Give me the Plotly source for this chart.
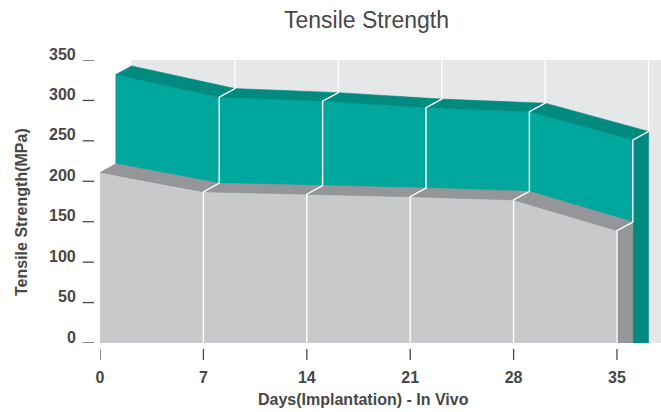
import plotly.graph_objects as go

# ---- data ----
days = [0, 7, 14, 21, 28, 35]
front_series = [211, 187, 184, 181, 177, 139]   # grey (front row)
back_series = [332, 304, 299, 291, 286, 251]    # teal (back row)
y_ticks = [0, 50, 100, 150, 200, 250, 300, 350]
x_tick_labels = ["0", "7", "14", "21", "28", "35"]

TITLE = "Tensile Strength"
Y_TITLE = "Tensile Strength(MPa)"
X_TITLE = "Days(Implantation) - In Vivo"

# ---- layout constants ----
W, H = 661, 412
ML, MR, MT, MB = 100, 0, 60, 69
PW, PH = W - ML - MR, H - MT - MB
Y_MAX = 350
PX_PER_DAY = 517 / 35
X_MAX = PW / PX_PER_DAY
PX_PER_UNIT = PH / Y_MAX
DX = 15.8 / PX_PER_DAY        # 3D depth offset, in axis units
DY = 8.6 / PX_PER_UNIT

TEAL_FRONT = "#00A79D"
TEAL_TOP = "#008A80"
TEAL_SIDE = "#008A80"
GREY_FRONT = "#C8C9CB"
GREY_TOP = "#95969A"
GREY_SIDE = "#95969A"
WALL = "#E6E7E9"
TXT = "#474747"
FONT = "Liberation Sans, Arial, sans-serif"

fig = go.Figure()


def poly(xs, ys, color):
    fig.add_trace(go.Scatter(
        x=xs + [xs[0]], y=ys + [ys[0]], mode="lines", fill="toself",
        fillcolor=color, line=dict(color=color, width=0.6),
        hoverinfo="skip", showlegend=False))


def series3d(xs, vals, depth, front_c, top_c, side_c):
    ox = depth * DX
    fx = [x + ox for x in xs]
    # front face
    poly([fx[0]] + fx + [fx[-1]], [0] + [v for v in vals] + [0], front_c)
    # top faces
    for i in range(len(xs) - 1):
        poly([fx[i], fx[i + 1], fx[i + 1] + DX, fx[i] + DX],
             [vals[i], vals[i + 1], vals[i + 1] + DY, vals[i] + DY], top_c)
    # right side
    poly([fx[-1], fx[-1], fx[-1] + DX, fx[-1] + DX],
         [0, vals[-1], vals[-1] + DY, 0], side_c)


# back wall
poly([2 * DX, X_MAX, X_MAX, 2 * DX], [0, 0, Y_MAX, Y_MAX], WALL)

series3d(days, back_series, 1, TEAL_FRONT, TEAL_TOP, TEAL_SIDE)
series3d(days, front_series, 0, GREY_FRONT, GREY_TOP, GREY_SIDE)

# white separator lines wrapping over the 3D surfaces
lx, ly = [], []
for i in range(1, len(days)):
    x, g, t = days[i], front_series[i], back_series[i]
    lx += [x, x, x + DX, x + DX, x + 2 * DX, x + 2 * DX, None]
    ly += [0, g, g + DY, t, t + DY, Y_MAX, None]
fig.add_trace(go.Scatter(x=lx, y=ly, mode="lines",
                         line=dict(color="white", width=1.4),
                         hoverinfo="skip", showlegend=False))

shapes = []
annotations = []
# y tick marks + labels
for v in y_ticks:
    shapes.append(dict(type="line", xref="paper", yref="y",
                       x0=-17.3 / PW, x1=-6 / PW, y0=v, y1=v,
                       line=dict(color=TXT, width=1.3)))
    annotations.append(dict(xref="paper", yref="y", x=-22 / PW, y=v,
                            xanchor="right", yanchor="middle", yshift=6,
                            text=str(v), showarrow=False,
                            font=dict(family=FONT, size=16, color=TXT, weight="bold")))
# x tick marks
for d in days:
    shapes.append(dict(type="line", xref="x", yref="paper",
                       x0=d, x1=d, y0=-6 / PH, y1=-17 / PH,
                       line=dict(color=TXT, width=1.3)))

annotations.append(dict(xref="paper", yref="paper", x=(21.5 - ML) / PW,
                        y=(H - MB - 212.5) / PH, textangle=-90,
                        xanchor="center", yanchor="middle", showarrow=False,
                        text=Y_TITLE,
                        font=dict(family=FONT, size=16, color=TXT, weight="bold")))
annotations.append(dict(xref="paper", yref="paper", x=(363.5 - ML) / PW,
                        y=(H - MB - 399) / PH, xanchor="center", yanchor="middle",
                        showarrow=False, text=X_TITLE,
                        font=dict(family=FONT, size=16, color=TXT, weight="bold")))

fig.update_layout(
    width=W, height=H,
    margin=dict(l=ML, r=MR, t=MT, b=MB),
    paper_bgcolor="white", plot_bgcolor="white",
    title=dict(text=TITLE, x=366.5 / W, xanchor="center",
               y=1 - 20 / H, yanchor="middle",
               font=dict(family=FONT, size=23, color=TXT)),
    xaxis=dict(range=[0, X_MAX], showgrid=False, zeroline=False, showline=False,
               tickmode="array", tickvals=days, ticktext=x_tick_labels,
               ticks="", ticklabelstandoff=23,
               tickfont=dict(family=FONT, size=16, color=TXT, weight="bold"),
               fixedrange=True),
    yaxis=dict(range=[0, Y_MAX], showgrid=False, zeroline=False, showline=False,
               showticklabels=False, ticks="", fixedrange=True),
    shapes=shapes,
    annotations=annotations,
)

fig.write_html("out.html", config={"displayModeBar": False},
               post_script="document.body.style.margin='0';document.body.style.overflow='hidden';")
